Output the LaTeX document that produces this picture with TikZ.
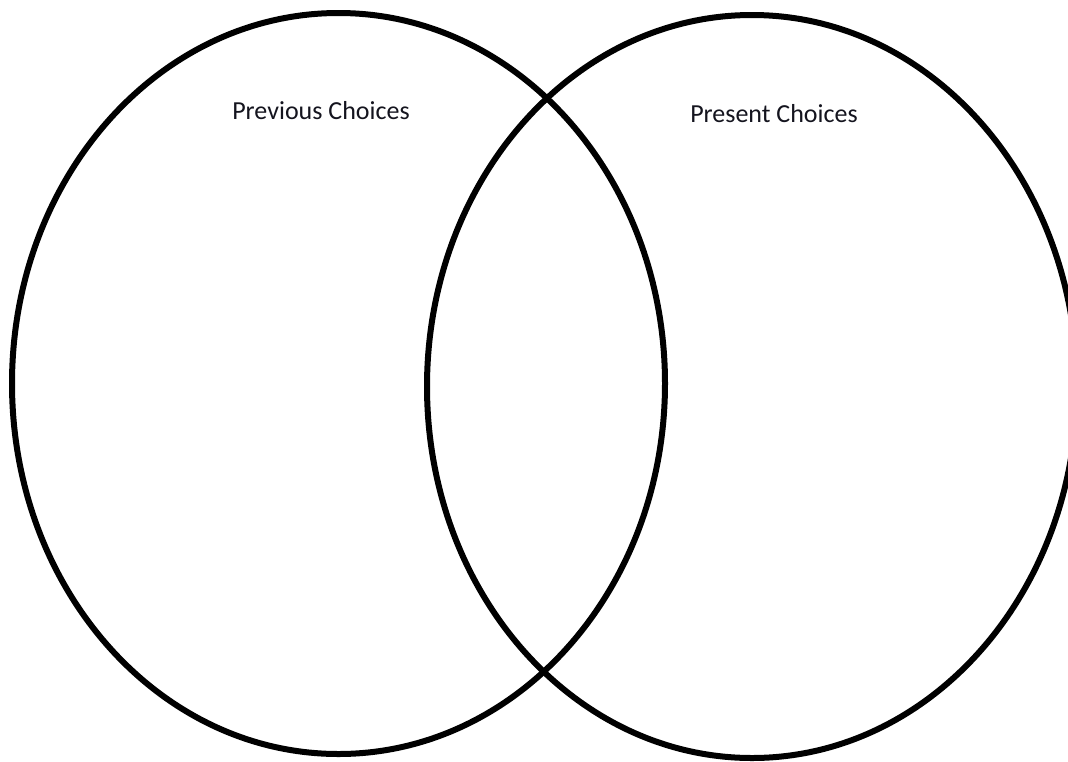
\documentclass[tikz,border=0pt]{standalone}
\usepackage{fontspec}
\usepackage{tikz}
\usetikzlibrary{shapes.geometric, positioning}
\newfontfamily\choicefont{Carlito}
\definecolor{inkblack}{RGB}{20, 20, 30}

\begin{document}
\begin{tikzpicture}[
    x=1pt, y=-1pt,
    setring/.style={ellipse, draw=black, line width=6pt, inner sep=0pt},
    setlabel/.style={font=\choicefont\fontsize{26}{30}\selectfont, text=inkblack, inner sep=0pt}
]

    \useasboundingbox (0,0) rectangle (1068,761);

    \node[setring, minimum width=653pt, minimum height=741pt] (prev) at (338.5,383.5) {};
    \node[setring, minimum width=650pt, minimum height=743pt] (pres) at (752,386.5) {};

    \node[setlabel] (prevlabel) at (321,111) {Previous Choices};
    \node[setlabel] (preslabel) at (774,114) {Present Choices};

\end{tikzpicture}
\end{document}
